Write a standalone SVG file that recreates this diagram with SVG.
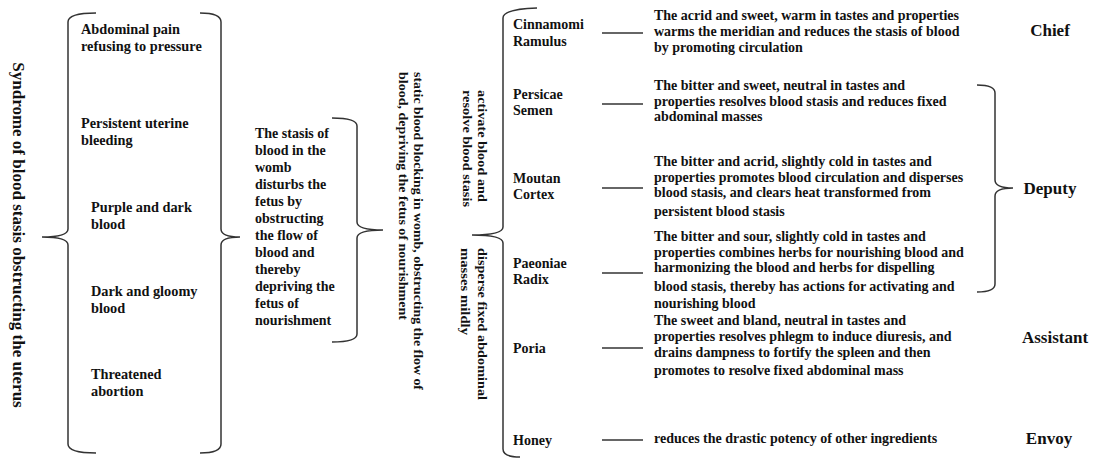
<svg xmlns="http://www.w3.org/2000/svg" width="1094" height="459" viewBox="0 0 1094 459">
<style>
text{font-family:"Liberation Serif","Times New Roman",serif;font-weight:bold;fill:#111;}
.t{font-size:14.3px;}
.n{font-size:14px;}
.d{font-size:14px;}
.r{font-size:13.5px;}
.role{font-size:17px;}
.title{font-size:17px;}
.brace{fill:none;stroke:#333;stroke-width:1.5;}
.conn{stroke:#333;stroke-width:1.5;}
</style>
<rect width="1094" height="459" fill="#fff"/>
<g id="title">
<text class="title" transform="translate(13,235) rotate(90)" text-anchor="middle">Syndrome of blood stasis obstructing the uterus</text>
</g>
<g id="braces">
<path class="brace" d="M96,13 Q68,13 68,22 L68,229 Q68,237 42,237 Q68,237 68,245 L68,444 Q68,453 96,453"/>
<path class="brace" d="M200,13 Q221,13 221,22 L221,229 Q221,237 240,237 Q221,237 221,245 L221,444 Q221,453 200,453"/>
<path class="brace" d="M332,118 Q357,118 357,126 L357,222 Q357,230 383,230 Q357,230 357,238 L357,334 Q357,342 332,342"/>
<path class="brace" d="M537,8 Q503,9 503,18 L503,227 Q503,235 472,235 Q503,235 503,243 L503,449 Q503,457 520,457"/>
<path class="brace" d="M977,85 Q995,85 995,93 L995,180 Q995,188 1013,188 Q995,188 995,196 L995,284 Q995,292 977,292"/>
</g>
<g id="symptoms">
<text class="t" x="81" y="34">Abdominal pain</text>
<text class="t" x="81" y="51">refusing to pressure</text>
<text class="t" x="81" y="128">Persistent uterine</text>
<text class="t" x="81" y="145">bleeding</text>
<text class="t" x="91" y="212">Purple and dark</text>
<text class="t" x="91" y="229">blood</text>
<text class="t" x="91" y="296">Dark and gloomy</text>
<text class="t" x="91" y="313">blood</text>
<text class="t" x="91" y="379">Threatened</text>
<text class="t" x="91" y="396">abortion</text>
</g>
<g id="pathogenesis">
<text class="n" x="255">
<tspan x="255" y="138">The stasis of</tspan>
<tspan x="255" y="155">blood in the</tspan>
<tspan x="255" y="172">womb</tspan>
<tspan x="255" y="189">disturbs the</tspan>
<tspan x="255" y="206">fetus by</tspan>
<tspan x="255" y="223">obstructing</tspan>
<tspan x="255" y="240">the flow of</tspan>
<tspan x="255" y="257">blood and</tspan>
<tspan x="255" y="274">thereby</tspan>
<tspan x="255" y="291">depriving the</tspan>
<tspan x="255" y="308">fetus of</tspan>
<tspan x="255" y="325">nourishment</tspan>
</text>
</g>
<g id="summary">
<text class="r" transform="translate(413.5,72) rotate(90)" textLength="318" lengthAdjust="spacingAndGlyphs">static blood blocking in womb, obstructing the flow of</text>
<text class="r" transform="translate(398.5,72) rotate(90)" textLength="248" lengthAdjust="spacingAndGlyphs">blood, depriving the fetus of nourishment</text>
</g>
<g id="treatment-1">
<text class="r" transform="translate(477.5,90) rotate(90)" textLength="112" lengthAdjust="spacingAndGlyphs">activate blood and</text>
<text class="r" transform="translate(462.5,90) rotate(90)" textLength="117" lengthAdjust="spacingAndGlyphs">resolve blood stasis</text>
</g>
<g id="treatment-2">
<text class="r" transform="translate(477.5,248) rotate(90)" textLength="152" lengthAdjust="spacingAndGlyphs">disperse fixed abdominal</text>
<text class="r" transform="translate(461,248) rotate(90)" textLength="87" lengthAdjust="spacingAndGlyphs">masses mildly</text>
</g>
<g id="herb-cinnamomi">
<text class="n" x="513" y="29">Cinnamomi</text>
<text class="n" x="513" y="46">Ramulus</text>
<text class="d" x="654" y="20">The acrid and sweet, warm in tastes and properties</text>
<text class="d" x="654" y="36">warms the meridian and reduces the stasis of blood</text>
<text class="d" x="654" y="52">by promoting circulation</text>
</g>
<g id="herb-persicae">
<text class="n" x="513" y="99">Persicae</text>
<text class="n" x="513" y="115">Semen</text>
<text class="d" x="654" y="90">The bitter and sweet, neutral in tastes and</text>
<text class="d" x="654" y="106">properties resolves blood stasis and reduces fixed</text>
<text class="d" x="654" y="121">abdominal masses</text>
</g>
<g id="herb-moutan">
<text class="n" x="513" y="183">Moutan</text>
<text class="n" x="513" y="199">Cortex</text>
<text class="d" x="654" y="166">The bitter and acrid, slightly cold in tastes and</text>
<text class="d" x="654" y="182">properties promotes blood circulation and disperses</text>
<text class="d" x="654" y="197">blood stasis, and clears heat transformed from</text>
<text class="d" x="654" y="216">persistent blood stasis</text>
</g>
<g id="herb-paeoniae">
<text class="n" x="513" y="268">Paeoniae</text>
<text class="n" x="513" y="284">Radix</text>
<text class="d" x="654" y="241">The bitter and sour, slightly cold in tastes and</text>
<text class="d" x="654" y="257">properties combines herbs for nourishing blood and</text>
<text class="d" x="654" y="272">harmonizing the blood and herbs for dispelling</text>
<text class="d" x="654" y="291">blood stasis, thereby has actions for activating and</text>
<text class="d" x="654" y="308">nourishing blood</text>
</g>
<g id="herb-poria">
<text class="n" x="513" y="353">Poria</text>
<text class="d" x="654" y="325">The sweet and bland, neutral in tastes and</text>
<text class="d" x="654" y="341">properties resolves phlegm to induce diuresis, and</text>
<text class="d" x="654" y="357">drains dampness to fortify the spleen and then</text>
<text class="d" x="654" y="375">promotes to resolve fixed abdominal mass</text>
</g>
<g id="herb-honey">
<text class="n" x="513" y="445">Honey</text>
<text class="d" x="654" y="443">reduces the drastic potency of other ingredients</text>
</g>
<g id="roles">
<text class="role" x="1050" y="36" text-anchor="middle">Chief</text>
<text class="role" x="1050" y="194" text-anchor="middle">Deputy</text>
<text class="role" x="1055" y="343" text-anchor="middle">Assistant</text>
<text class="role" x="1049" y="444" text-anchor="middle">Envoy</text>
</g>
<g id="connectors">
<line class="conn" x1="602" y1="33" x2="643" y2="33"/>
<line class="conn" x1="602" y1="104" x2="643" y2="104"/>
<line class="conn" x1="602" y1="188" x2="643" y2="188"/>
<line class="conn" x1="602" y1="273" x2="643" y2="273"/>
<line class="conn" x1="602" y1="348" x2="643" y2="348"/>
<line class="conn" x1="602" y1="440" x2="643" y2="440"/>
</g>
</svg>
